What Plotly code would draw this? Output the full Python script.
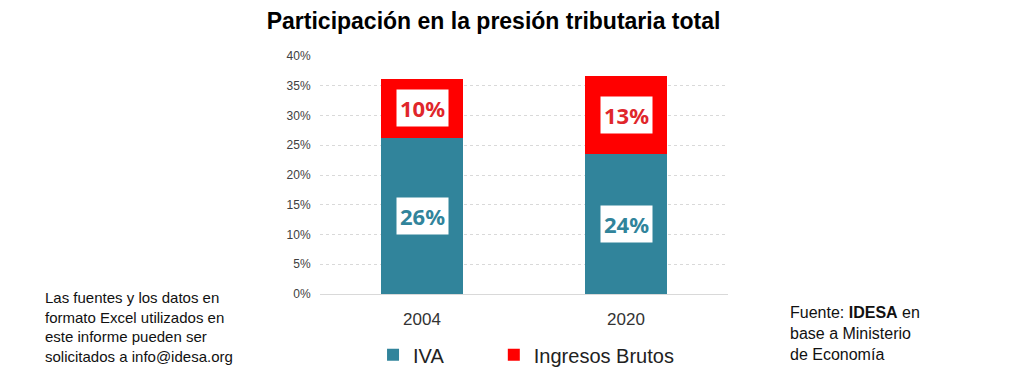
import plotly.graph_objects as go

years = ["2004", "2020"]
iva = [26.3, 23.6]
ingresos_brutos = [9.8, 13.0]
iva_labels = ["26%", "24%"]
ib_labels = ["10%", "13%"]
y_ticks = [0, 5, 10, 15, 20, 25, 30, 35, 40]
y_tick_text = ["0%", "5%", "10%", "15%", "20%", "25%", "30%", "35%", "40%"]

TEAL = "#31849B"
RED = "#FF0000"
SANS = "Liberation Sans, Arial, sans-serif"

fig = go.Figure()
fig.add_trace(go.Bar(x=years, y=iva, name="IVA", marker=dict(color=TEAL), width=0.4, legend="legend"))
fig.add_trace(go.Bar(x=years, y=ingresos_brutos, name="Ingresos Brutos", marker=dict(color=RED), width=0.4,
                     legend="legend2"))

annotations = []
for i, yr in enumerate(years):
    # category axis: position i is the category yr
    annotations.append(dict(x=i, y=iva[i] / 2, text="<b>%s</b>" % iva_labels[i], showarrow=False,
                            font=dict(family="Noto Sans, sans-serif", size=22, color=TEAL),
                            bgcolor="white", borderpad=3))
    annotations.append(dict(x=i, y=iva[i] + ingresos_brutos[i] / 2, text="<b>%s</b>" % ib_labels[i], showarrow=False,
                            font=dict(family="Noto Sans, sans-serif", size=22, color="#E0262B"),
                            bgcolor="white", borderpad=3))

annotations.append(dict(xref="paper", yref="paper", x=-0.679, y=0.03, xanchor="left", yanchor="top",
                        text="Las fuentes y los datos en<br>formato Excel utilizados en<br>este informe pueden ser<br>solicitados a info@idesa.org",
                        align="left", showarrow=False, font=dict(family=SANS, size=15, color="#111111")))
annotations.append(dict(xref="paper", yref="paper", x=1.147, y=-0.035, xanchor="left", yanchor="top",
                        text="Fuente: <b>IDESA</b> en<br>base a Ministerio<br>de Economía",
                        align="left", showarrow=False, font=dict(family=SANS, size=16, color="#111111")))

legend_style = dict(orientation="h", xanchor="left", y=-0.255, yanchor="middle",
                    font=dict(family=SANS, size=20, color="#222222"), bgcolor="rgba(0,0,0,0)")

fig.update_layout(
    template="none",
    barmode="stack",
    width=1024, height=378,
    margin=dict(l=320, r=296, t=56, b=84, autoexpand=False),
    paper_bgcolor="white", plot_bgcolor="white",
    title=dict(text="<b>Participación en la presión tributaria total</b>", x=0.482, xanchor="center",
               y=0.945, yanchor="middle",
               font=dict(family=SANS, size=23, color="black")),
    showlegend=True,
    legend=dict(x=0.13, **legend_style),
    legend2=dict(x=0.426, **legend_style),
    annotations=annotations,
    xaxis=dict(type="category", range=[-0.5, 1.5], autorange=False,
               tickmode="array", tickvals=years, ticktext=years,
               tickfont=dict(family=SANS, size=17, color="#333333"),
               showgrid=False, showline=False, zeroline=False,
               ticks="outside", ticklen=10, tickcolor="rgba(0,0,0,0)"),
    yaxis=dict(range=[0, 40], autorange=False, tickvals=y_ticks, ticktext=y_tick_text,
               tickfont=dict(family=SANS, size=12, color="#404040"),
               showgrid=True, gridcolor="#D9D9D9", griddash="dot", gridwidth=1,
               zeroline=True, zerolinecolor="#D9D9D9", zerolinewidth=1, showline=False,
               ticks="outside", ticklen=6, tickcolor="rgba(0,0,0,0)"),
)

fig.write_html("out.html", config={"displayModeBar": False},
               post_script="document.body.style.margin='0';")
